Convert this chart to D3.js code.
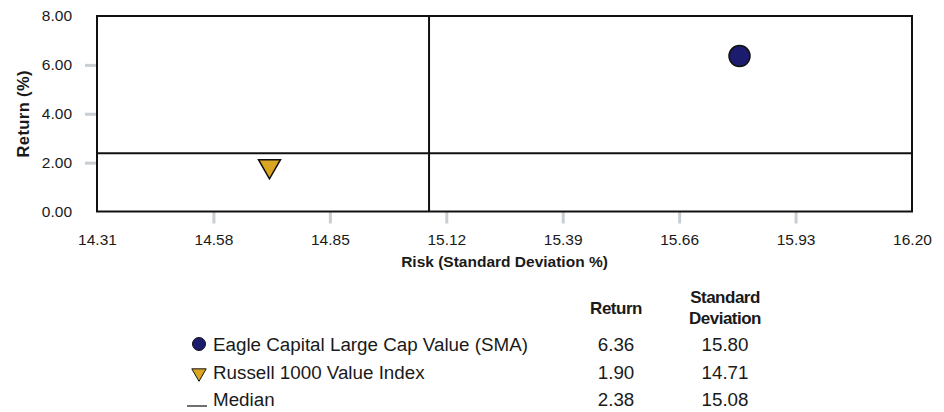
<!DOCTYPE html>
<html>
<head>
<meta charset="utf-8">
<script src="https://cdn.jsdelivr.net/npm/d3@7"></script>
<style>
  body { margin: 0; background: #fff; }
  text { font-family: "Liberation Sans", Arial, sans-serif; fill: #1a1a1a; }
</style>
</head>
<body>
<svg id="chart"></svg>
<script>
// data
const seriesNames = ['Eagle Capital Large Cap Value (SMA)', 'Russell 1000 Value Index', 'Median'];
const returns = [6.36, 1.90, 2.38];
const stdDevs = [15.80, 14.71, 15.08];
const xTicks = [14.31, 14.58, 14.85, 15.12, 15.39, 15.66, 15.93, 16.20];
const yTicks = [0, 2, 4, 6, 8];

// layout
const width = 944;
const height = 412;
const margin = {top: 16, right: 32, bottom: 200.5, left: 97};
const navy = '#1c1c6e';
const gold = '#daa520';
const tickGray = '#c9ced3';

const svg = d3.select('#chart')
    .attr('width', width)
    .attr('height', height);

const x = d3.scaleLinear()
    .domain([xTicks[0], xTicks[xTicks.length - 1]])
    .range([margin.left, width - margin.right]);
const y = d3.scaleLinear()
    .domain([yTicks[0], yTicks[yTicks.length - 1]])
    .range([height - margin.bottom, margin.top]);

// X axis
const xAxis = svg.append('g')
    .attr('transform', 'translate(0,' + y(0) + ')')
    .call(d3.axisBottom(x).tickValues(xTicks).tickFormat(d3.format('.2f')).tickSize(12).tickPadding(10));
xAxis.select('.domain').remove();
xAxis.selectAll('line')
    .attr('stroke', tickGray)
    .attr('stroke-width', 3)
    .attr('display', (d, i) => (i === 0 || i === xTicks.length - 1) ? 'none' : null);
xAxis.selectAll('text').style('font-size', '15.5px').attr('fill', '#1a1a1a');

// Y axis
const yAxis = svg.append('g')
    .attr('transform', 'translate(' + x.range()[0] + ',0)')
    .call(d3.axisLeft(y).tickValues(yTicks).tickFormat(d3.format('.2f')).tickSize(12).tickPadding(13));
yAxis.select('.domain').remove();
yAxis.selectAll('line')
    .attr('stroke', tickGray)
    .attr('stroke-width', 3)
    .attr('display', (d, i) => (i === 0 || i === yTicks.length - 1) ? 'none' : null);
yAxis.selectAll('text').style('font-size', '15.5px').attr('fill', '#1a1a1a');

// frame
svg.append('rect')
    .attr('x', x.range()[0])
    .attr('y', y.range()[1])
    .attr('width', x.range()[1] - x.range()[0])
    .attr('height', y.range()[0] - y.range()[1])
    .attr('fill', 'none')
    .attr('stroke', '#111')
    .attr('stroke-width', 2);

// median lines
svg.append('line')
    .attr('x1', x.range()[0]).attr('x2', x.range()[1])
    .attr('y1', y(returns[2])).attr('y2', y(returns[2]))
    .attr('stroke', '#111').attr('stroke-width', 2);
svg.append('line')
    .attr('x1', x(stdDevs[2])).attr('x2', x(stdDevs[2]))
    .attr('y1', y.range()[0]).attr('y2', y.range()[1])
    .attr('stroke', '#111').attr('stroke-width', 2);

// points
const tri = d3.symbol().type(d3.symbolTriangle).size(210);
svg.append('circle')
    .attr('cx', x(stdDevs[0]))
    .attr('cy', y(returns[0]))
    .attr('r', 10.5)
    .attr('fill', navy)
    .attr('stroke', '#111')
    .attr('stroke-width', 1.5);
svg.append('path')
    .attr('d', tri)
    .attr('transform', 'translate(' + x(stdDevs[1]) + ',' + (y(returns[1]) + 1) + ') rotate(180)')
    .attr('fill', gold)
    .attr('stroke', '#111')
    .attr('stroke-width', 1.5);

// axis titles
svg.append('text')
    .attr('x', (x.range()[0] + x.range()[1]) / 2)
    .attr('y', 267)
    .attr('text-anchor', 'middle')
    .style('font-size', '15.5px')
    .style('font-weight', 'bold')
    .text('Risk (Standard Deviation %)');
svg.append('text')
    .attr('transform', 'translate(29,' + ((y.range()[0] + y.range()[1]) / 2) + ') rotate(-90)')
    .attr('text-anchor', 'middle')
    .style('font-size', '16.5px')
    .style('font-weight', 'bold')
    .style('letter-spacing', '0.4px')
    .text('Return (%)');

// legend table
const legend = svg.append('g');
const rowY = [344, 372, 399];
const colReturn = 616;
const colStd = 725;

legend.append('text')
    .attr('x', colReturn).attr('y', 314)
    .attr('text-anchor', 'middle')
    .style('font-size', '17px').style('font-weight', 'bold').style('letter-spacing', '-0.5px')
    .text('Return');
legend.append('text')
    .attr('x', colStd).attr('y', 303)
    .attr('text-anchor', 'middle')
    .style('font-size', '17px').style('font-weight', 'bold').style('letter-spacing', '-0.5px')
    .text('Standard');
legend.append('text')
    .attr('x', colStd).attr('y', 324)
    .attr('text-anchor', 'middle')
    .style('font-size', '17px').style('font-weight', 'bold').style('letter-spacing', '-0.5px')
    .text('Deviation');

const rows = legend.selectAll('g.row')
    .data(seriesNames)
    .enter()
    .append('g')
    .attr('class', 'row')
    .attr('transform', (d, i) => 'translate(0,' + rowY[i] + ')');

rows.append('text')
    .attr('x', 213).attr('dy', '0.35em')
    .style('font-size', '18.8px')
    .text(d => d);
rows.append('text')
    .attr('x', colReturn).attr('dy', '0.35em')
    .attr('text-anchor', 'middle')
    .style('font-size', '18.8px')
    .text((d, i) => d3.format('.2f')(returns[i]));
rows.append('text')
    .attr('x', colStd).attr('dy', '0.35em')
    .attr('text-anchor', 'middle')
    .style('font-size', '18.8px')
    .text((d, i) => d3.format('.2f')(stdDevs[i]));

// legend markers
rows.filter((d, i) => i === 0).append('circle')
    .attr('cx', 199).attr('r', 6.5)
    .attr('fill', navy).attr('stroke', '#111').attr('stroke-width', 1);
rows.filter((d, i) => i === 1).append('path')
    .attr('d', d3.symbol().type(d3.symbolTriangle).size(90))
    .attr('transform', 'translate(199,1) rotate(180)')
    .attr('fill', gold).attr('stroke', '#111').attr('stroke-width', 1);
rows.filter((d, i) => i === 2).append('line')
    .attr('x1', 187).attr('x2', 207).attr('y1', 7).attr('y2', 7)
    .attr('stroke', '#111').attr('stroke-width', 1.2);
</script>
</body>
</html>
